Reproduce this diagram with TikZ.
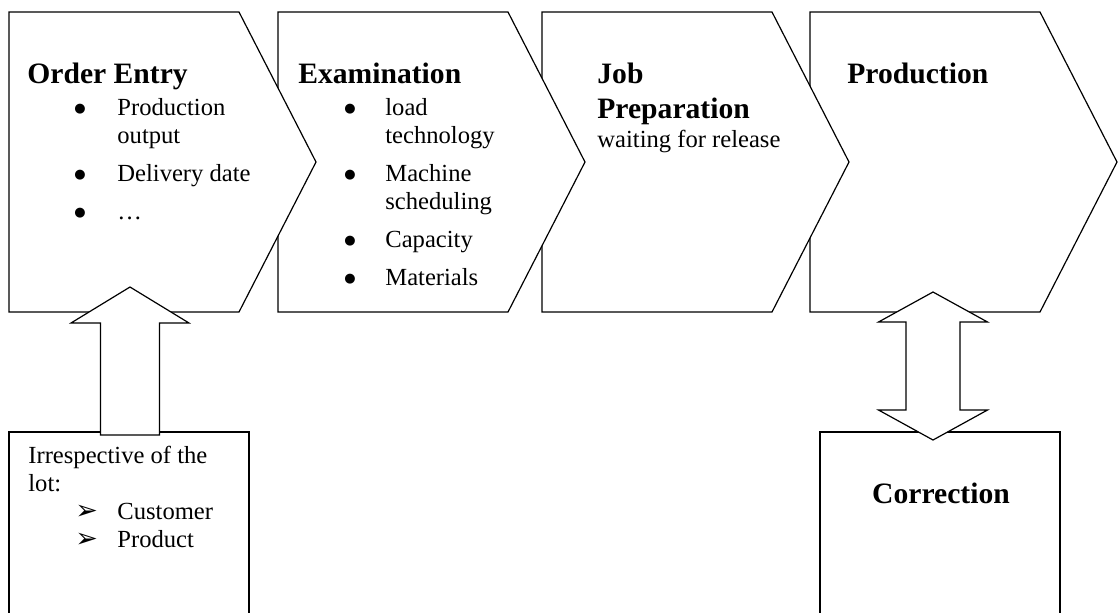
\documentclass[tikz,border=0pt]{standalone}
\usepackage{fontspec}
\setmainfont{Liberation Serif}
\newfontfamily\dingfont{DejaVu Sans}
\newcommand{\titlefont}{\fontsize{14.8pt}{17pt}\selectfont\bfseries}
\newcommand{\bodyfont}{\fontsize{12.3pt}{14pt}\selectfont}
\newcommand{\dotbullet}{\raisebox{1.3pt}{\dingfont\fontsize{6.5pt}{7pt}\selectfont ●}}
\newcommand{\arrowbullet}{{\dingfont\fontsize{13.5pt}{14pt}\selectfont ➢}}

\tikzset{
  stage/.style={draw, fill=white, line width=0.6pt},
  box/.style={draw, fill=white, line width=0.6pt},
  blockarrow/.style={draw, fill=white, line width=0.6pt},
  title/.style={anchor=base west, inner sep=0pt, font=\titlefont},
  body/.style={anchor=base west, inner sep=0pt, font=\bodyfont},
}

\begin{document}
\begin{tikzpicture}[x=0.5pt, y=-0.5pt]
\useasboundingbox (0,0) rectangle (1119,612);

% boxes at the bottom
\draw[box] (9,613) -- (9,432) -- (249,432) -- (249,613);
\draw[box] (820,613) -- (820,432) -- (1060,432) -- (1060,613);

% the four stages, last one first so that each tip lies on the next
\foreach \x/\n in {810/prod, 542/jobprep, 278/exam, 9/orderentry}{
  \draw[stage] (\x,12) coordinate (\n) -- ++(230,0) -- ++(77,150) -- ++(-77,150) -- ++(-230,0) -- cycle;
}

% block arrows
\coordinate (oetip) at (130,287);
\draw[blockarrow] (oetip) -- ++(59,36) -- ++(-29.5,0) -- ++(0,112) -- ++(-59,0) -- ++(0,-112) -- ++(-29.5,0) -- cycle;
\coordinate (prodtip) at (933,292);
\draw[blockarrow] (prodtip) -- ++(54.5,30) -- ++(-27.5,0) -- ++(0,88) -- ++(27.5,0) -- ++(-54.5,30)
  -- ++(-54.5,-30) -- ++(27.5,0) -- ++(0,-88) -- ++(-27.5,0) -- cycle;

% texts
\node[title] (oetitle) at (27,83) {Order Entry};
\node[body] (oelist) at (74,115) {\begin{tabular}[t]{@{}p{21.5pt}@{}l@{}}
  \dotbullet & Production\\
             & output\\[5pt]
  \dotbullet & Delivery date\\[5pt]
  \dotbullet & …
\end{tabular}};

\node[title] (extitle) at (298,83) {Examination};
\node[body] (exlist) at (344,115) {\begin{tabular}[t]{@{}p{20.5pt}@{}l@{}}
  \dotbullet & load\\
             & technology\\[5pt]
  \dotbullet & Machine\\
             & scheduling\\[5pt]
  \dotbullet & Capacity\\[5pt]
  \dotbullet & Materials
\end{tabular}};

\node[title] (jptitle) at (597,83) {Job};
\node[title] (jptitleb) at (597,118) {Preparation};
\node[body] (jptext) at (597,147) {waiting for release};

\node[title] (prtitle) at (847,83) {Production};

\node[body] (lottext) at (28,463) {\begin{tabular}[t]{@{}p{23.5pt}@{}p{21pt}@{}l@{}}
  \multicolumn{3}{@{}l@{}}{Irrespective of the}\\
  \multicolumn{3}{@{}l@{}}{lot:}\\
  & \arrowbullet & Customer\\
  & \arrowbullet & Product
\end{tabular}};

\node[title, anchor=base] (corrtitle) at (941,503) {Correction};

\end{tikzpicture}
\end{document}
